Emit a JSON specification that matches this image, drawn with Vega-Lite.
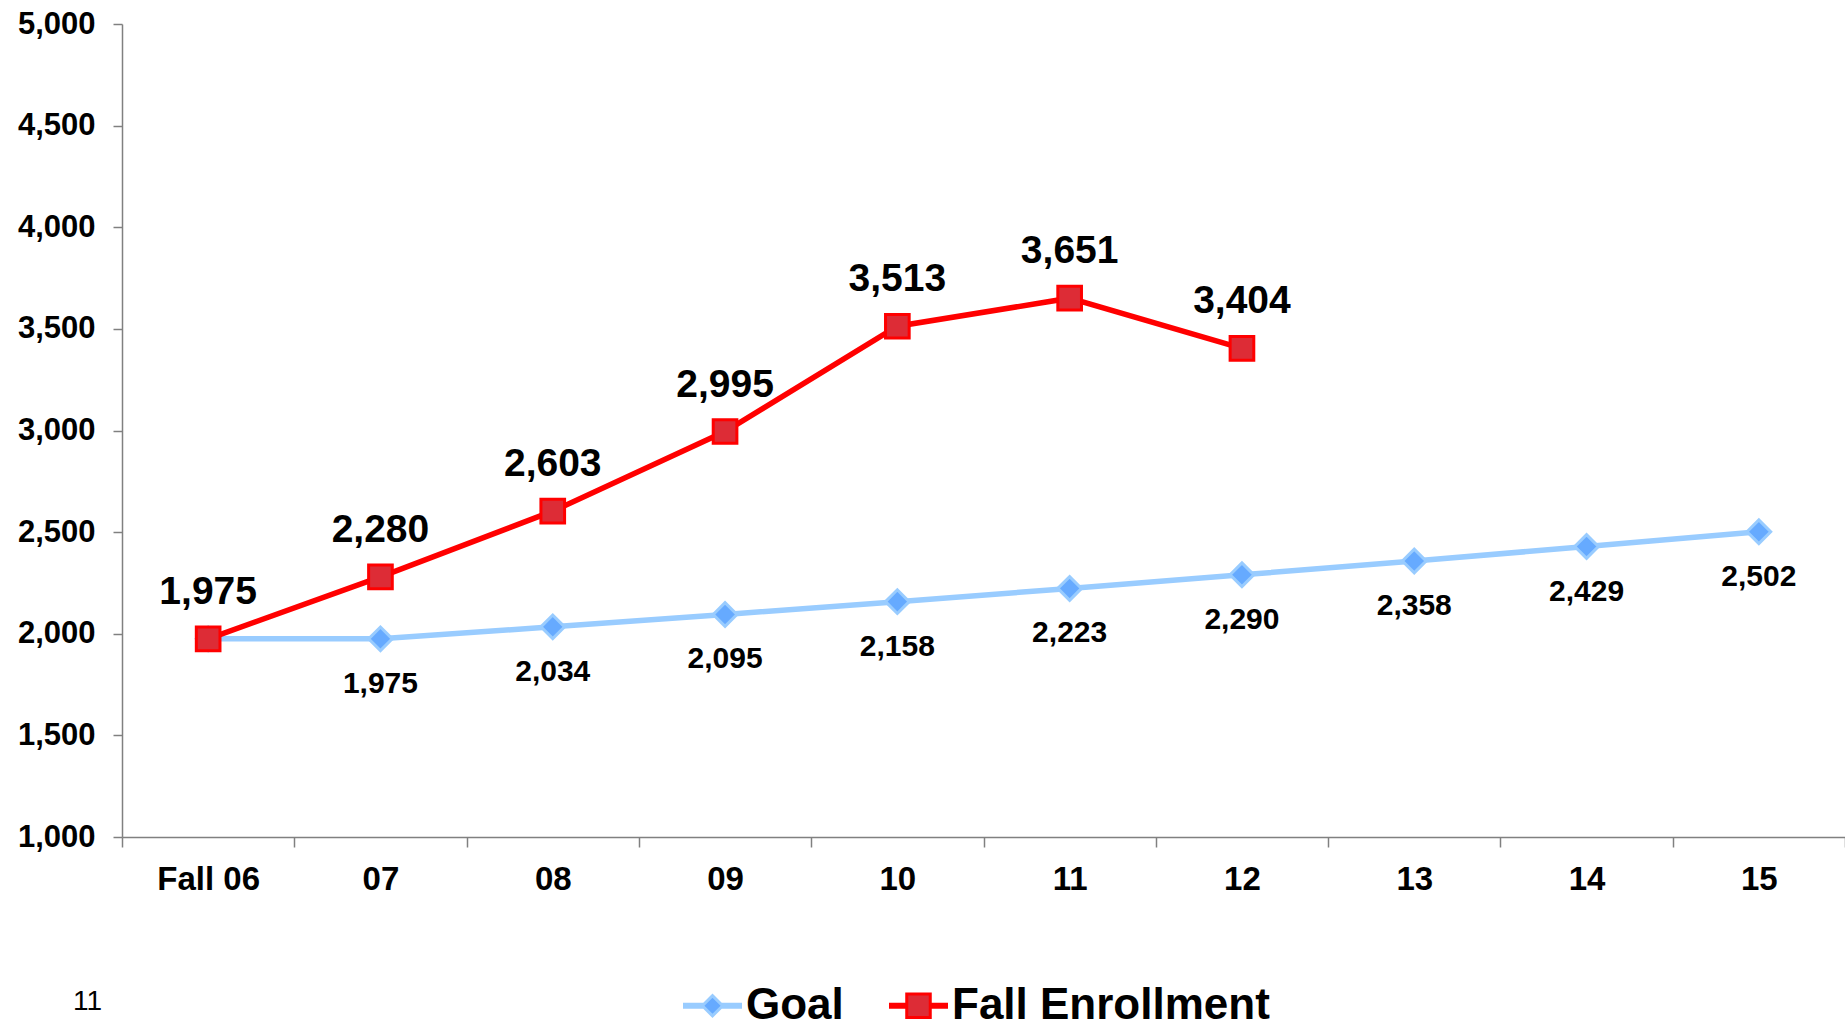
{
  "$schema": "https://vega.github.io/schema/vega-lite/v6.json",
  "width": 1723,
  "height": 813,
  "autosize": {"type": "none"},
  "padding": {"left": 122, "top": 24, "right": 0, "bottom": 193},
  "background": "white",
  "config": {
    "font": "Liberation Sans",
    "view": {"stroke": null}
  },
  "data": {
    "values": [
      {"year": "Fall 06", "series": "Goal", "value": 1975},
      {"year": "07", "series": "Goal", "value": 1975},
      {"year": "08", "series": "Goal", "value": 2034},
      {"year": "09", "series": "Goal", "value": 2095},
      {"year": "10", "series": "Goal", "value": 2158},
      {"year": "11", "series": "Goal", "value": 2223},
      {"year": "12", "series": "Goal", "value": 2290},
      {"year": "13", "series": "Goal", "value": 2358},
      {"year": "14", "series": "Goal", "value": 2429},
      {"year": "15", "series": "Goal", "value": 2502},
      {"year": "Fall 06", "series": "Fall Enrollment", "value": 1975},
      {"year": "07", "series": "Fall Enrollment", "value": 2280},
      {"year": "08", "series": "Fall Enrollment", "value": 2603},
      {"year": "09", "series": "Fall Enrollment", "value": 2995},
      {"year": "10", "series": "Fall Enrollment", "value": 3513},
      {"year": "11", "series": "Fall Enrollment", "value": 3651},
      {"year": "12", "series": "Fall Enrollment", "value": 3404}
    ]
  },
  "resolve": {
    "scale": {"shape": "independent", "fill": "independent", "stroke": "independent"},
    "legend": {"shape": "independent", "fill": "independent", "stroke": "independent"}
  },
  "encoding": {
    "x": {
      "field": "year",
      "type": "nominal",
      "sort": null,
      "scale": {"type": "band", "paddingInner": 0, "paddingOuter": 0},
      "axis": {
        "title": null,
        "labelAngle": 0,
        "labelFontSize": 33,
        "labelFontWeight": "bold",
        "labelColor": "#000000",
        "labelPadding": 16,
        "tickBand": "extent",
        "tickSize": 10,
        "tickColor": "#808080",
        "domainColor": "#808080",
        "domainWidth": 1.5,
        "tickWidth": 1.5,
        "grid": false
      }
    },
    "y": {
      "field": "value",
      "type": "quantitative",
      "scale": {"domain": [1000, 5000], "nice": false, "zero": false},
      "axis": {
        "title": null,
        "values": [1000, 1500, 2000, 2500, 3000, 3500, 4000, 4500, 5000],
        "format": ",.0f",
        "labelFontSize": 31,
        "labelFontWeight": "bold",
        "labelColor": "#000000",
        "labelPadding": 18,
        "tickSize": 9,
        "tickColor": "#808080",
        "domainColor": "#808080",
        "domainWidth": 1.5,
        "tickWidth": 1.5,
        "grid": false
      }
    }
  },
  "layer": [
    {
      "mark": {"type": "line", "strokeWidth": 5.5},
      "encoding": {
        "stroke": {
          "field": "series",
          "type": "nominal",
          "scale": {"domain": ["Goal", "Fall Enrollment"], "range": ["#99CCFF", "#FF0000"]},
          "legend": null
        }
      }
    },
    {
      "mark": {"type": "point", "filled": true, "strokeWidth": 3, "opacity": 1},
      "encoding": {
        "shape": {
          "field": "series",
          "type": "nominal",
          "scale": {"domain": ["Goal", "Fall Enrollment"], "range": ["diamond", "square"]},
          "legend": null
        },
        "fill": {
          "field": "series",
          "type": "nominal",
          "scale": {"domain": ["Goal", "Fall Enrollment"], "range": ["#66AAFF", "#DD2C36"]},
          "legend": null
        },
        "stroke": {
          "field": "series",
          "type": "nominal",
          "scale": {"domain": ["Goal", "Fall Enrollment"], "range": ["#99CCFF", "#FF0000"]},
          "legend": null
        },
        "size": {"value": 560}
      }
    },
    {
      "transform": [{"filter": "false"}],
      "mark": {"type": "point", "filled": true, "strokeWidth": 3, "opacity": 1},
      "encoding": {
        "shape": {
          "field": "series",
          "type": "nominal",
          "scale": {
            "domain": ["Goal", "Fall Enrollment"],
            "range": [
              "M-1,-0.05L-0.31,-0.05L0,-0.36L0.31,-0.05L1,-0.05L1,0.05L0.31,0.05L0,0.36L-0.31,0.05L-1,0.05Z",
              "M-1,-0.05L-0.42,-0.05L-0.42,-0.42L0.42,-0.42L0.42,-0.05L1,-0.05L1,0.05L0.42,0.05L0.42,0.42L-0.42,0.42L-0.42,0.05L-1,0.05Z"
            ]
          },
          "legend": {
            "title": "11",
            "titleOrient": "left",
            "titleFontSize": 28,
            "titleFontWeight": "normal",
            "titleColor": "#000000",
            "titlePadding": 580,
            "titleBaseline": "middle",
            "orient": "none",
            "legendX": -49,
            "legendY": 952,
            "direction": "horizontal",
            "labelFontSize": 44,
            "labelFontWeight": "bold",
            "labelColor": "#000000",
            "symbolSize": 3136,
            "symbolStrokeWidth": 3,
            "symbolOpacity": 1,
            "columnPadding": 40,
            "labelOffset": 4,
            "labelLimit": 0
          }
        },
        "fill": {
          "field": "series",
          "type": "nominal",
          "scale": {"domain": ["Goal", "Fall Enrollment"], "range": ["#66AAFF", "#DD2C36"]}
        },
        "stroke": {
          "field": "series",
          "type": "nominal",
          "scale": {"domain": ["Goal", "Fall Enrollment"], "range": ["#99CCFF", "#FF0000"]}
        },
        "size": {"value": 560}
      }
    },
    {
      "transform": [{"filter": "datum.series === 'Goal' && datum.year !== 'Fall 06'"}],
      "mark": {"type": "text", "dy": 45, "fontSize": 30, "fontWeight": "bold", "color": "#000000"},
      "encoding": {"text": {"field": "value", "type": "quantitative", "format": ","}}
    },
    {
      "transform": [{"filter": "datum.series === 'Fall Enrollment'"}],
      "mark": {"type": "text", "dy": -47, "fontSize": 39, "fontWeight": "bold", "color": "#000000"},
      "encoding": {"text": {"field": "value", "type": "quantitative", "format": ","}}
    }
  ]
}
